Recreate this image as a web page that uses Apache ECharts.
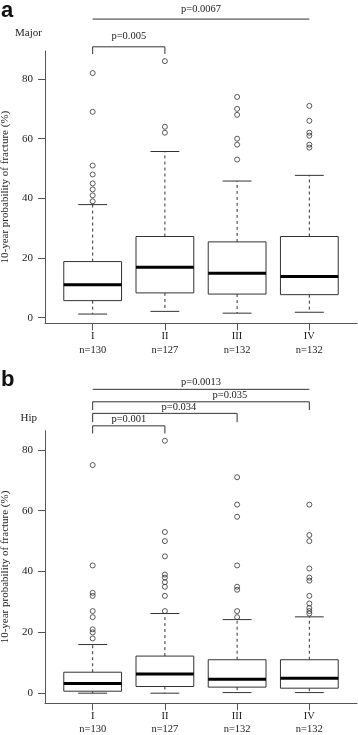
<!DOCTYPE html>
<html>
<head>
<meta charset="utf-8">
<script src="https://cdn.jsdelivr.net/npm/echarts@6/dist/echarts.min.js"></script>
<style>html,body{margin:0;padding:0;background:#fff;}#c{width:358px;height:735px;}</style>
</head>
<body>
<div id="c"></div>
<script>
// ---------- data ----------
const categories = ['I', 'II', 'III', 'IV'];
const counts = ['n=130', 'n=127', 'n=132', 'n=132'];
const yTicks = [0, 20, 40, 60, 80];

// [lower whisker, Q1, median, Q3, upper whisker]
const majorI   = [1.2, 5.7, 11.0, 18.8, 37.9];
const majorII  = [2.1, 8.3, 16.9, 27.2, 55.7];
const majorIII = [1.5, 7.9, 14.9, 25.4, 45.8];
const majorIV  = [1.8, 7.7, 13.8, 27.2, 47.7];

const majorOutI   = [82, 69, 51, 48, 45, 43, 41, 39];
const majorOutII  = [86, 64, 62];
const majorOutIII = [74, 70, 68, 60, 58, 53];
const majorOutIV  = [71, 66, 62, 61, 58, 57];

const hipI   = [0, 0.66, 3.2, 6.9, 16.0];
const hipII  = [0, 2.2, 6.3, 12.2, 26.2];
const hipIII = [0.2, 2.0, 4.6, 11.0, 24.2];
const hipIV  = [0.2, 1.65, 4.95, 11.0, 25.1];

const hipOutI   = [75, 42, 33, 32, 27, 25, 21, 20, 18];
const hipOutII  = [83, 53, 50, 45, 39, 38, 36.5, 35, 32, 27];
const hipOutIII = [71, 62, 58, 42, 35, 34, 27, 25];
const hipOutIV  = [62, 52, 50, 41, 38, 37, 32, 29.5, 28, 27, 26.2];

// significance annotations
const majorPLabels = ['p=0.0067', 'p=0.005'];
const majorPPairs  = [[1, 4], [1, 2]];
const hipPLabels = ['p=0.0013', 'p=0.035', 'p=0.034', 'p=0.001'];
const hipPPairs  = [[1, 4], [1, 4], [1, 3], [1, 2]];

// ---------- layout of annotations (data units) ----------
// [line y, drop y (null = no drop), label x, label y]
const majorBracketPos = [[100.1, null, 2.5, 103.4], [90.8, 88.4, 1.5, 94.4]];
const hipBracketPos = [[99.9, null, 2.5, 102.1], [95.8, 93.1, 2.9, 98.0], [92.0, 89.1, 2.195, 94.0], [87.9, 85.4, 1.5, 90.1]];

const FONT = '"Liberation Serif", "Times New Roman", serif';
const LINE = '#333';
const AXIS = '#555';

function boxData(arrs) { return arrs.map((a, i) => [i + 1].concat(a)); }
function outData(arrs) {
  const out = [];
  arrs.forEach((a, i) => a.forEach(v => out.push([i + 1, v])));
  return out;
}
function bracketData(pairs, pos) {
  return pairs.map((p, i) => [p[0], p[1], pos[i][0], pos[i][1] == null ? NaN : pos[i][1], pos[i][2], pos[i][3]]);
}

function renderBox(params, api) {
  const x = api.value(0);
  const lo = api.value(1), q1 = api.value(2), med = api.value(3), q3 = api.value(4), hi = api.value(5);
  const half = api.size([0.4, 0])[0];
  const cap = api.size([0.2, 0])[0];
  const pLo = api.coord([x, lo]), pQ1 = api.coord([x, q1]), pMed = api.coord([x, med]);
  const pQ3 = api.coord([x, q3]), pHi = api.coord([x, hi]);
  const cx = pQ1[0];
  const thin = { stroke: LINE, lineWidth: 1 };
  return {
    type: 'group',
    children: [
      { type: 'line', shape: { x1: cx, y1: pQ3[1], x2: cx, y2: pHi[1] }, style: { stroke: LINE, lineWidth: 1, lineDash: [3, 3] } },
      { type: 'line', shape: { x1: cx, y1: pQ1[1], x2: cx, y2: pLo[1] }, style: { stroke: LINE, lineWidth: 1, lineDash: [3, 3] } },
      { type: 'line', shape: { x1: cx - cap, y1: pHi[1], x2: cx + cap, y2: pHi[1] }, style: thin },
      { type: 'line', shape: { x1: cx - cap, y1: pLo[1], x2: cx + cap, y2: pLo[1] }, style: thin },
      { type: 'rect', shape: { x: cx - half, y: pQ3[1], width: 2 * half, height: pQ1[1] - pQ3[1] }, style: { fill: '#fff', stroke: LINE, lineWidth: 1 } },
      { type: 'line', shape: { x1: cx - half, y1: pMed[1], x2: cx + half, y2: pMed[1] }, style: { stroke: '#000', lineWidth: 3 } }
    ]
  };
}

const labelsById = { majorBr: majorPLabels, hipBr: hipPLabels };

function renderBracket(params, api) {
  const x1 = api.value(0), x2 = api.value(1), yl = api.value(2), yd = api.value(3);
  const lx = api.value(4), ly = api.value(5);
  const label = labelsById[params.seriesId][params.dataIndex];
  const a = api.coord([x1, yl]), b = api.coord([x2, yl]);
  const children = [
    { type: 'line', shape: { x1: a[0], y1: a[1], x2: b[0], y2: b[1] }, style: { stroke: LINE, lineWidth: 1 } }
  ];
  if (!isNaN(yd)) {
    const ad = api.coord([x1, yd]), bd = api.coord([x2, yd]);
    children.push({ type: 'line', shape: { x1: a[0], y1: a[1], x2: ad[0], y2: ad[1] }, style: { stroke: LINE, lineWidth: 1 } });
    children.push({ type: 'line', shape: { x1: b[0], y1: b[1], x2: bd[0], y2: bd[1] }, style: { stroke: LINE, lineWidth: 1 } });
  }
  const lp = api.coord([lx, ly]);
  children.push({ type: 'text', x: lp[0], y: lp[1], style: { text: label, fill: '#222', font: '10.5px ' + FONT, textAlign: 'center', textVerticalAlign: 'middle' } });
  return { type: 'group', children: children };
}

function xAxisCfg(idx, lh) {
  return {
    gridIndex: idx, type: 'value', min: 0.34, max: 4.66,
    splitLine: { show: false },
    axisLine: { onZero: false, lineStyle: { color: AXIS, width: 1 } },
    axisTick: { customValues: [1, 2, 3, 4], length: 7, lineStyle: { color: AXIS } },
    axisLabel: {
      customValues: [1, 2, 3, 4], margin: 6, color: '#222', fontFamily: FONT, fontSize: 10.5, lineHeight: lh,
      formatter: v => categories[Math.round(v) - 1] + '\n' + counts[Math.round(v) - 1]
    }
  };
}
function yAxisCfg(idx, min, max) {
  return {
    gridIndex: idx, type: 'value', min: min, max: max,
    name: '10-year probability of fracture (%)', nameLocation: 'middle', nameGap: 34,
    nameTextStyle: { fontFamily: FONT, fontSize: 11, color: '#222' },
    splitLine: { show: false },
    axisLine: { show: true, onZero: false, lineStyle: { color: AXIS, width: 1 } },
    axisTick: { show: true, customValues: yTicks, length: 7, lineStyle: { color: AXIS } },
    axisLabel: { customValues: yTicks, margin: 12, color: '#222', fontFamily: FONT, fontSize: 11 }
  };
}

const outStyle = { color: 'rgba(0,0,0,0)', borderColor: LINE, borderWidth: 1 };

const option = {
  backgroundColor: '#fff',
  animation: false,
  grid: [
    { left: 45, top: 51, width: 312, height: 272.3, containLabel: false, outerBoundsMode: 'none' },
    { left: 45, top: 430.7, width: 312, height: 272.6, containLabel: false, outerBoundsMode: 'none' }
  ],
  xAxis: [xAxisCfg(0, 14), xAxisCfg(1, 13.5)],
  yAxis: [yAxisCfg(0, -1.9, 89.4), yAxisCfg(1, -3.32, 86.3)],
  graphic: [
    { type: 'text', left: 1, top: 0, style: { text: 'a', font: 'bold 22px "Liberation Sans", Arial, sans-serif', fill: '#111' } },
    { type: 'text', left: 1, top: 369, style: { text: 'b', font: 'bold 22px "Liberation Sans", Arial, sans-serif', fill: '#111' } },
    { type: 'text', left: 15, top: 28, style: { text: 'Major', font: '11px ' + FONT, fill: '#222' } },
    { type: 'text', left: 20.5, top: 413, style: { text: 'Hip', font: '11px ' + FONT, fill: '#222' } }
  ],
  series: [
    { type: 'custom', xAxisIndex: 0, yAxisIndex: 0, clip: false, renderItem: renderBox, data: boxData([majorI, majorII, majorIII, majorIV]) },
    { type: 'scatter', xAxisIndex: 0, yAxisIndex: 0, symbol: 'circle', symbolSize: 5, itemStyle: outStyle, data: outData([majorOutI, majorOutII, majorOutIII, majorOutIV]) },
    { type: 'custom', id: 'majorBr', xAxisIndex: 0, yAxisIndex: 0, clip: false, renderItem: renderBracket, data: bracketData(majorPPairs, majorBracketPos) },
    { type: 'custom', xAxisIndex: 1, yAxisIndex: 1, clip: false, renderItem: renderBox, data: boxData([hipI, hipII, hipIII, hipIV]) },
    { type: 'scatter', xAxisIndex: 1, yAxisIndex: 1, symbol: 'circle', symbolSize: 5, itemStyle: outStyle, data: outData([hipOutI, hipOutII, hipOutIII, hipOutIV]) },
    { type: 'custom', id: 'hipBr', xAxisIndex: 1, yAxisIndex: 1, clip: false, renderItem: renderBracket, data: bracketData(hipPPairs, hipBracketPos) }
  ]
};

const chart = echarts.init(document.getElementById('c'), null, { renderer: 'canvas' });
chart.setOption(option);
</script>
</body>
</html>
